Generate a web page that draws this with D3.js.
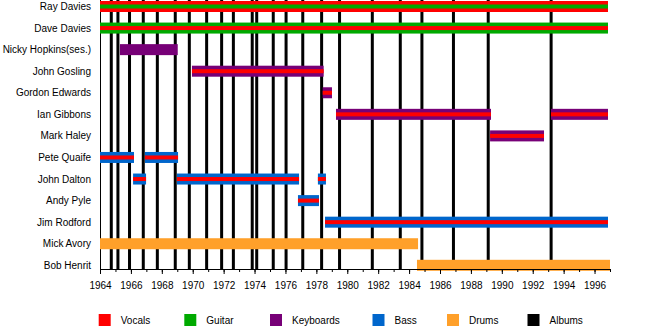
<!DOCTYPE html>
<html>
<head>
<meta charset="utf-8">
<script src="https://cdn.jsdelivr.net/npm/d3@7/dist/d3.min.js"></script>
<style>
  html, body { margin: 0; padding: 0; background: #fff; }
  svg { display: block; }
  text { font-family: "Liberation Sans", Arial, sans-serif; fill: #000; }
</style>
</head>
<body>
<svg id="chart" width="660" height="330"></svg>
<script>
// ---- data ----
const members = ["Ray Davies", "Dave Davies", "Nicky Hopkins(ses.)", "John Gosling", "Gordon Edwards",
  "Ian Gibbons", "Mark Haley", "Pete Quaife", "John Dalton", "Andy Pyle", "Jim Rodford", "Mick Avory", "Bob Henrit"];
const primaryRole = ["Vocals", "Guitar", "Keyboards", "Keyboards", "Keyboards",
  "Keyboards", "Keyboards", "Bass", "Bass", "Bass", "Bass", "Drums", "Drums"];
const secondaryRole = ["Guitar", "Vocals", null, "Vocals", "Vocals",
  "Vocals", "Vocals", "Vocals", "Vocals", "Vocals", "Vocals", null, null];
const stintMember = ["Ray Davies", "Dave Davies", "Nicky Hopkins(ses.)", "John Gosling", "Gordon Edwards",
  "Ian Gibbons", "Ian Gibbons", "Mark Haley", "Pete Quaife", "Pete Quaife", "John Dalton", "John Dalton",
  "John Dalton", "Andy Pyle", "Jim Rodford", "Mick Avory", "Bob Henrit"];
const stintStart = [1964.0, 1964.0, 1965.29, 1969.95, 1978.41,
  1979.27, 1993.18, 1989.24, 1964.0, 1966.91, 1966.14, 1968.98,
  1978.1, 1976.81, 1978.56, 1964.0, 1984.51];
const stintEnd = [1996.87, 1996.87, 1969.03, 1978.47, 1979.01,
  1989.3, 1996.87, 1992.73, 1966.2, 1969.05, 1966.98, 1976.88,
  1978.62, 1978.17, 1996.87, 1984.58, 1997.0];
const albumDates = [1964.73, 1965.16, 1965.91, 1966.80, 1967.71, 1968.87, 1969.78, 1970.90, 1971.87,
  1972.63, 1973.85, 1974.14, 1975.21, 1976.04, 1977.12, 1978.34, 1979.50, 1981.62, 1983.43,
  1984.83, 1986.87, 1989.12, 1993.19];
const majorTicks = d3.range(1964, 1997, 2);
const minorTicks = d3.range(1964, 1998, 1);
const legendLabels = ["Vocals", "Guitar", "Keyboards", "Bass", "Drums", "Albums"];
const legendColors = ["#ff0000", "#00aa00", "#770077", "#0066cc", "#ffa02a", "#000000"];

// ---- layout ----
const svg = d3.select("#chart");
const x = d3.scaleLinear().domain([1964, 1997]).range([100, 610]);
const y = d3.scalePoint().domain(members).range([6.5, 265.3]);
const color = d3.scaleOrdinal().domain(legendLabels).range(legendColors);
const axisY = 269;
const barH = 11, innerH = 4;

// album lines
svg.append("g").selectAll("rect").data(albumDates).join("rect")
  .attr("x", d => x(d) - 1.5).attr("width", 3)
  .attr("y", 0).attr("height", axisY)
  .attr("fill", color("Albums"));

// left axis line
svg.append("line").attr("x1", 100.5).attr("x2", 100.5).attr("y1", 0).attr("y2", axisY + 1)
  .attr("stroke", "#000").attr("stroke-width", 1);

// bars
const stints = stintMember.map((m, i) => ({ m, s: stintStart[i], e: stintEnd[i] }));
const bars = svg.append("g");
bars.selectAll("rect.outer").data(stints).join("rect").attr("class", "outer")
  .attr("x", d => x(d.s)).attr("width", d => x(d.e) - x(d.s))
  .attr("y", d => y(d.m) - barH / 2).attr("height", barH)
  .attr("fill", d => color(primaryRole[members.indexOf(d.m)]));
bars.selectAll("rect.inner").data(stints.filter(d => secondaryRole[members.indexOf(d.m)])).join("rect").attr("class", "inner")
  .attr("x", d => x(d.s)).attr("width", d => x(d.e) - x(d.s))
  .attr("y", d => y(d.m) - innerH / 2).attr("height", innerH)
  .attr("fill", d => color(secondaryRole[members.indexOf(d.m)]));

// member labels
svg.append("g").selectAll("text").data(members).join("text")
  .attr("x", 91).attr("y", d => y(d) + 3.5)
  .attr("text-anchor", "end").attr("font-size", 10).text(d => d);

// x axis
const gMinor = svg.append("g").attr("transform", `translate(0,${axisY})`)
  .call(d3.axisBottom(x).tickValues(minorTicks).tickSize(3).tickSizeOuter(0).tickFormat(""));
const gMajor = svg.append("g").attr("transform", `translate(0,${axisY})`)
  .call(d3.axisBottom(x).tickValues(majorTicks).tickSize(5).tickSizeOuter(0).tickPadding(8).tickFormat(d3.format("d")));
gMajor.selectAll("text").attr("font-size", 10).attr("font-family", "Liberation Sans, Arial, sans-serif").attr("fill", "#000");
svg.selectAll(".domain, .tick line").attr("stroke", "#000");

// legend
const legendX = [98.7, 184.3, 270, 372.5, 447, 527.5];
const lg = svg.append("g").selectAll("g").data(legendLabels).join("g")
  .attr("transform", (d, i) => `translate(${legendX[i]},314)`);
lg.append("rect").attr("width", 12).attr("height", 12).attr("fill", d => color(d));
lg.append("text").attr("x", 22).attr("y", 9.5).attr("font-size", 10).text(d => d);
</script>
</body>
</html>
